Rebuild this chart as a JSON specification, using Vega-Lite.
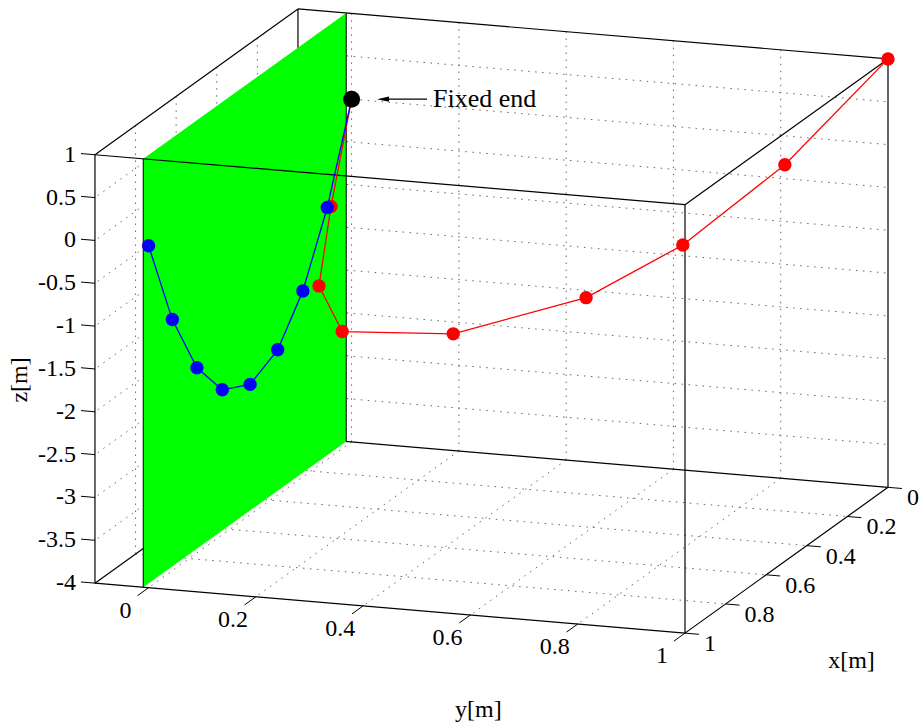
{
  "$schema": "https://vega.github.io/schema/vega-lite/v6.json",
  "width": 922,
  "height": 722,
  "padding": 0,
  "autosize": {"type": "fit", "contains": "padding"},
  "background": "white",
  "config": {"view": {"stroke": null}},
  "datasets": {
    "edges": [
      {"x1": 0, "y1": -0.1, "z1": 1, "x2": 0, "y2": 1, "z2": 1, "front": 0},
      {"x1": 0, "y1": -0.1, "z1": 1, "x2": 1, "y2": -0.1, "z2": 1, "front": 0},
      {"x1": 0, "y1": 1, "z1": 1, "x2": 1, "y2": 1, "z2": 1, "front": 0},
      {"x1": 0, "y1": -0.1, "z1": -4, "x2": 0, "y2": 1, "z2": -4, "front": 0},
      {"x1": 0, "y1": -0.1, "z1": -4, "x2": 1, "y2": -0.1, "z2": -4, "front": 0},
      {"x1": 0, "y1": 1, "z1": -4, "x2": 1, "y2": 1, "z2": -4, "front": 0},
      {"x1": 0, "y1": -0.1, "z1": -4, "x2": 0, "y2": -0.1, "z2": 1, "front": 0},
      {"x1": 0, "y1": 1, "z1": -4, "x2": 0, "y2": 1, "z2": 1, "front": 0},
      {"x1": 1, "y1": -0.1, "z1": 1, "x2": 1, "y2": 1, "z2": 1, "front": 1},
      {"x1": 1, "y1": -0.1, "z1": -4, "x2": 1, "y2": 1, "z2": -4, "front": 1},
      {"x1": 1, "y1": -0.1, "z1": -4, "x2": 1, "y2": -0.1, "z2": 1, "front": 1},
      {"x1": 1, "y1": 1, "z1": -4, "x2": 1, "y2": 1, "z2": 1, "front": 1}
    ],
    "grid": [
      {"x1": 0, "y1": 0, "z1": -4, "x2": 0, "y2": 0, "z2": 1},
      {"x1": 0, "y1": 0.2, "z1": -4, "x2": 0, "y2": 0.2, "z2": 1},
      {"x1": 0, "y1": 0.4, "z1": -4, "x2": 0, "y2": 0.4, "z2": 1},
      {"x1": 0, "y1": 0.6, "z1": -4, "x2": 0, "y2": 0.6, "z2": 1},
      {"x1": 0, "y1": 0.8, "z1": -4, "x2": 0, "y2": 0.8, "z2": 1},
      {"x1": 0, "y1": -0.1, "z1": 0.5, "x2": 0, "y2": 1, "z2": 0.5},
      {"x1": 0, "y1": -0.1, "z1": 0, "x2": 0, "y2": 1, "z2": 0},
      {"x1": 0, "y1": -0.1, "z1": -0.5, "x2": 0, "y2": 1, "z2": -0.5},
      {"x1": 0, "y1": -0.1, "z1": -1, "x2": 0, "y2": 1, "z2": -1},
      {"x1": 0, "y1": -0.1, "z1": -1.5, "x2": 0, "y2": 1, "z2": -1.5},
      {"x1": 0, "y1": -0.1, "z1": -2, "x2": 0, "y2": 1, "z2": -2},
      {"x1": 0, "y1": -0.1, "z1": -2.5, "x2": 0, "y2": 1, "z2": -2.5},
      {"x1": 0, "y1": -0.1, "z1": -3, "x2": 0, "y2": 1, "z2": -3},
      {"x1": 0, "y1": -0.1, "z1": -3.5, "x2": 0, "y2": 1, "z2": -3.5},
      {"x1": 0.2, "y1": -0.1, "z1": -4, "x2": 0.2, "y2": -0.1, "z2": 1},
      {"x1": 0.4, "y1": -0.1, "z1": -4, "x2": 0.4, "y2": -0.1, "z2": 1},
      {"x1": 0.6, "y1": -0.1, "z1": -4, "x2": 0.6, "y2": -0.1, "z2": 1},
      {"x1": 0.8, "y1": -0.1, "z1": -4, "x2": 0.8, "y2": -0.1, "z2": 1},
      {"x1": 0, "y1": -0.1, "z1": 0.5, "x2": 1, "y2": -0.1, "z2": 0.5},
      {"x1": 0, "y1": -0.1, "z1": 0, "x2": 1, "y2": -0.1, "z2": 0},
      {"x1": 0, "y1": -0.1, "z1": -0.5, "x2": 1, "y2": -0.1, "z2": -0.5},
      {"x1": 0, "y1": -0.1, "z1": -1, "x2": 1, "y2": -0.1, "z2": -1},
      {"x1": 0, "y1": -0.1, "z1": -1.5, "x2": 1, "y2": -0.1, "z2": -1.5},
      {"x1": 0, "y1": -0.1, "z1": -2, "x2": 1, "y2": -0.1, "z2": -2},
      {"x1": 0, "y1": -0.1, "z1": -2.5, "x2": 1, "y2": -0.1, "z2": -2.5},
      {"x1": 0, "y1": -0.1, "z1": -3, "x2": 1, "y2": -0.1, "z2": -3},
      {"x1": 0, "y1": -0.1, "z1": -3.5, "x2": 1, "y2": -0.1, "z2": -3.5},
      {"x1": 0, "y1": 0, "z1": -4, "x2": 1, "y2": 0, "z2": -4},
      {"x1": 0, "y1": 0.2, "z1": -4, "x2": 1, "y2": 0.2, "z2": -4},
      {"x1": 0, "y1": 0.4, "z1": -4, "x2": 1, "y2": 0.4, "z2": -4},
      {"x1": 0, "y1": 0.6, "z1": -4, "x2": 1, "y2": 0.6, "z2": -4},
      {"x1": 0, "y1": 0.8, "z1": -4, "x2": 1, "y2": 0.8, "z2": -4},
      {"x1": 0.2, "y1": -0.1, "z1": -4, "x2": 0.2, "y2": 1, "z2": -4},
      {"x1": 0.4, "y1": -0.1, "z1": -4, "x2": 0.4, "y2": 1, "z2": -4},
      {"x1": 0.6, "y1": -0.1, "z1": -4, "x2": 0.6, "y2": 1, "z2": -4},
      {"x1": 0.8, "y1": -0.1, "z1": -4, "x2": 0.8, "y2": 1, "z2": -4}
    ],
    "ticks": [
      {"axis": "z", "x": 1, "y": -0.1, "z": 1, "lab": "1"},
      {"axis": "z", "x": 1, "y": -0.1, "z": 0.5, "lab": "0.5"},
      {"axis": "z", "x": 1, "y": -0.1, "z": 0, "lab": "0"},
      {"axis": "z", "x": 1, "y": -0.1, "z": -0.5, "lab": "-0.5"},
      {"axis": "z", "x": 1, "y": -0.1, "z": -1, "lab": "-1"},
      {"axis": "z", "x": 1, "y": -0.1, "z": -1.5, "lab": "-1.5"},
      {"axis": "z", "x": 1, "y": -0.1, "z": -2, "lab": "-2"},
      {"axis": "z", "x": 1, "y": -0.1, "z": -2.5, "lab": "-2.5"},
      {"axis": "z", "x": 1, "y": -0.1, "z": -3, "lab": "-3"},
      {"axis": "z", "x": 1, "y": -0.1, "z": -3.5, "lab": "-3.5"},
      {"axis": "z", "x": 1, "y": -0.1, "z": -4, "lab": "-4"},
      {"axis": "y", "x": 1, "y": 0, "z": -4, "lab": "0"},
      {"axis": "y", "x": 1, "y": 0.2, "z": -4, "lab": "0.2"},
      {"axis": "y", "x": 1, "y": 0.4, "z": -4, "lab": "0.4"},
      {"axis": "y", "x": 1, "y": 0.6, "z": -4, "lab": "0.6"},
      {"axis": "y", "x": 1, "y": 0.8, "z": -4, "lab": "0.8"},
      {"axis": "y", "x": 1, "y": 1, "z": -4, "lab": "1"},
      {"axis": "x", "x": 0, "y": 1, "z": -4, "lab": "0"},
      {"axis": "x", "x": 0.2, "y": 1, "z": -4, "lab": "0.2"},
      {"axis": "x", "x": 0.4, "y": 1, "z": -4, "lab": "0.4"},
      {"axis": "x", "x": 0.6, "y": 1, "z": -4, "lab": "0.6"},
      {"axis": "x", "x": 0.8, "y": 1, "z": -4, "lab": "0.8"},
      {"axis": "x", "x": 1, "y": 1, "z": -4, "lab": "1"}
    ],
    "plane": [
      {"x": 0, "y": -0.01, "zt": 1, "zb": -4},
      {"x": 1, "y": -0.01, "zt": 1, "zb": -4}
    ],
    "blue": [
      {"i": 0, "x": 0, "y": 0, "z": 0},
      {"i": 1, "x": 0.12, "y": 0, "z": -1.06},
      {"i": 2, "x": 0.24, "y": 0, "z": -1.83},
      {"i": 3, "x": 0.364, "y": 0, "z": -2.306},
      {"i": 4, "x": 0.5, "y": 0, "z": -2.478},
      {"i": 5, "x": 0.637, "y": 0, "z": -2.308},
      {"i": 6, "x": 0.762, "y": 0, "z": -1.839},
      {"i": 7, "x": 0.883, "y": 0, "z": -1.07},
      {"i": 8, "x": 1.0, "y": 0, "z": -0.01}
    ],
    "red": [
      {"i": 0, "x": 0, "y": 0, "z": 0},
      {"i": 1, "x": 0.12, "y": 0.007, "z": -1.044},
      {"i": 2, "x": 0.24, "y": 0.03, "z": -1.755},
      {"i": 3, "x": 0.3, "y": 0.096, "z": -2.151},
      {"i": 4, "x": 0.3, "y": 0.303, "z": -2.068},
      {"i": 5, "x": 0.24, "y": 0.528, "z": -1.628},
      {"i": 6, "x": 0.16, "y": 0.678, "z": -1.07},
      {"i": 7, "x": 0.08, "y": 0.838, "z": -0.185},
      {"i": 8, "x": 0, "y": 1, "z": 1}
    ],
    "fixed": [{"x": 0, "y": 0, "z": 0}],
    "anno": [{"x": 0, "yt": 0.1406, "zt": 0.0746, "yh": 0.0474, "zh": 0.0252, "lab": "Fixed end"}],
    "titles": [
      {"x": 1, "y": -0.1, "z": -1.5, "lab": "z[m]"},
      {"x": 1, "y": 0.6, "z": -4, "lab": "y[m]"},
      {"x": 0.5, "y": 1, "z": -4, "lab": "x[m]"}
    ]
  },
  "encoding": {
    "x": {"field": "sx", "type": "quantitative", "scale": {"domain": [0, 922], "nice": false, "zero": false}, "axis": null},
    "y": {"field": "sy", "type": "quantitative", "scale": {"domain": [0, 722], "reverse": true, "nice": false, "zero": false}, "axis": null}
  },
  "layer": [
    {
      "data": {"name": "grid"},
      "transform": [
        {"calculate": "351.6 - 203*datum.x1 + 536.4*datum.y1", "as": "sx"},
        {"calculate": "99.3 + 146*datum.x1 + 45.5*datum.y1 - 85.8*datum.z1", "as": "sy"},
        {"calculate": "351.6 - 203*datum.x2 + 536.4*datum.y2", "as": "sx2"},
        {"calculate": "99.3 + 146*datum.x2 + 45.5*datum.y2 - 85.8*datum.z2", "as": "sy2"}
      ],
      "mark": {"type": "rule", "color": "#666666", "strokeWidth": 1, "strokeDash": [1.5, 5.5]},
      "encoding": {"x2": {"field": "sx2"}, "y2": {"field": "sy2"}}
    },
    {
      "data": {"name": "edges"},
      "transform": [
        {"filter": "datum.front == 0"},
        {"calculate": "351.6 - 203*datum.x1 + 536.4*datum.y1", "as": "sx"},
        {"calculate": "99.3 + 146*datum.x1 + 45.5*datum.y1 - 85.8*datum.z1", "as": "sy"},
        {"calculate": "351.6 - 203*datum.x2 + 536.4*datum.y2", "as": "sx2"},
        {"calculate": "99.3 + 146*datum.x2 + 45.5*datum.y2 - 85.8*datum.z2", "as": "sy2"}
      ],
      "mark": {"type": "rule", "color": "black", "strokeWidth": 1.2},
      "encoding": {"x2": {"field": "sx2"}, "y2": {"field": "sy2"}}
    },
    {
      "data": {"name": "plane"},
      "transform": [
        {"calculate": "351.6 - 203*datum.x + 536.4*datum.y", "as": "sx"},
        {"calculate": "99.3 + 146*datum.x + 45.5*datum.y - 85.8*datum.zt", "as": "sy"},
        {"calculate": "99.3 + 146*datum.x + 45.5*datum.y - 85.8*datum.zb", "as": "sy2"}
      ],
      "mark": {"type": "area", "color": "#00ff00", "opacity": 1},
      "encoding": {"y2": {"field": "sy2"}}
    },
    {
      "data": {"name": "plane"},
      "transform": [
        {"calculate": "351.6 - 203*datum.x + 536.4*datum.y", "as": "sx"},
        {"calculate": "99.3 + 146*datum.x + 45.5*datum.y - 85.8*datum.zt", "as": "sy"},
        {"calculate": "99.3 + 146*datum.x + 45.5*datum.y - 85.8*datum.zb", "as": "sy2"}
      ],
      "mark": {"type": "rule", "color": "black", "strokeWidth": 1},
      "encoding": {"y2": {"field": "sy2"}}
    },
    {
      "data": {"name": "edges"},
      "transform": [
        {"filter": "datum.front == 1"},
        {"calculate": "351.6 - 203*datum.x1 + 536.4*datum.y1", "as": "sx"},
        {"calculate": "99.3 + 146*datum.x1 + 45.5*datum.y1 - 85.8*datum.z1", "as": "sy"},
        {"calculate": "351.6 - 203*datum.x2 + 536.4*datum.y2", "as": "sx2"},
        {"calculate": "99.3 + 146*datum.x2 + 45.5*datum.y2 - 85.8*datum.z2", "as": "sy2"}
      ],
      "mark": {"type": "rule", "color": "black", "strokeWidth": 1.2},
      "encoding": {"x2": {"field": "sx2"}, "y2": {"field": "sy2"}}
    },
    {
      "data": {"name": "ticks"},
      "transform": [
        {"calculate": "datum.x + (datum.axis == 'y' ? 0.055 : 0)", "as": "xe"},
        {"calculate": "datum.y + (datum.axis == 'z' ? -0.026 : (datum.axis == 'x' ? 0.026 : 0))", "as": "ye"},
        {"calculate": "351.6 - 203*datum.x + 536.4*datum.y", "as": "sx"},
        {"calculate": "99.3 + 146*datum.x + 45.5*datum.y - 85.8*datum.z", "as": "sy"},
        {"calculate": "351.6 - 203*datum.xe + 536.4*datum.ye", "as": "sx2"},
        {"calculate": "99.3 + 146*datum.xe + 45.5*datum.ye - 85.8*datum.z", "as": "sy2"}
      ],
      "mark": {"type": "rule", "color": "black", "strokeWidth": 1},
      "encoding": {"x2": {"field": "sx2"}, "y2": {"field": "sy2"}}
    },
    {
      "data": {"name": "ticks"},
      "transform": [
        {"filter": "datum.axis == 'z'"},
        {"calculate": "351.6 - 203*datum.x + 536.4*datum.y", "as": "sx"},
        {"calculate": "99.3 + 146*datum.x + 45.5*datum.y - 85.8*datum.z", "as": "sy"}
      ],
      "mark": {"type": "text", "font": "Liberation Serif", "fontSize": 24, "color": "black", "align": "right", "baseline": "middle", "dx": -19, "dy": 0},
      "encoding": {"text": {"field": "lab"}}
    },
    {
      "data": {"name": "ticks"},
      "transform": [
        {"filter": "datum.axis == 'y'"},
        {"calculate": "351.6 - 203*datum.x + 536.4*datum.y", "as": "sx"},
        {"calculate": "99.3 + 146*datum.x + 45.5*datum.y - 85.8*datum.z", "as": "sy"}
      ],
      "mark": {"type": "text", "font": "Liberation Serif", "fontSize": 24, "color": "black", "align": "center", "baseline": "middle", "dx": -23, "dy": 23},
      "encoding": {"text": {"field": "lab"}}
    },
    {
      "data": {"name": "ticks"},
      "transform": [
        {"filter": "datum.axis == 'x'"},
        {"calculate": "351.6 - 203*datum.x + 536.4*datum.y", "as": "sx"},
        {"calculate": "99.3 + 146*datum.x + 45.5*datum.y - 85.8*datum.z", "as": "sy"}
      ],
      "mark": {"type": "text", "font": "Liberation Serif", "fontSize": 24, "color": "black", "align": "left", "baseline": "middle", "dx": 19, "dy": 11},
      "encoding": {"text": {"field": "lab"}}
    },
    {
      "data": {"name": "titles"},
      "transform": [
        {"filter": "datum.lab == 'z[m]'"},
        {"calculate": "351.6 - 203*datum.x + 536.4*datum.y", "as": "sx"},
        {"calculate": "99.3 + 146*datum.x + 45.5*datum.y - 85.8*datum.z", "as": "sy"}
      ],
      "mark": {"type": "text", "font": "Liberation Serif", "fontSize": 24, "color": "black", "align": "center", "baseline": "middle", "angle": 270, "dx": -11, "dy": -75},
      "encoding": {"text": {"field": "lab"}}
    },
    {
      "data": {"name": "titles"},
      "transform": [
        {"filter": "datum.lab == 'y[m]'"},
        {"calculate": "351.6 - 203*datum.x + 536.4*datum.y", "as": "sx"},
        {"calculate": "99.3 + 146*datum.x + 45.5*datum.y - 85.8*datum.z", "as": "sy"}
      ],
      "mark": {"type": "text", "font": "Liberation Serif", "fontSize": 24, "color": "black", "align": "center", "baseline": "middle", "dx": 8, "dy": 95},
      "encoding": {"text": {"field": "lab"}}
    },
    {
      "data": {"name": "titles"},
      "transform": [
        {"filter": "datum.lab == 'x[m]'"},
        {"calculate": "351.6 - 203*datum.x + 536.4*datum.y", "as": "sx"},
        {"calculate": "99.3 + 146*datum.x + 45.5*datum.y - 85.8*datum.z", "as": "sy"}
      ],
      "mark": {"type": "text", "font": "Liberation Serif", "fontSize": 24, "color": "black", "align": "center", "baseline": "middle", "dx": 65, "dy": 101},
      "encoding": {"text": {"field": "lab"}}
    },
    {
      "data": {"name": "red"},
      "transform": [
        {"calculate": "351.6 - 203*datum.x + 536.4*datum.y", "as": "sx"},
        {"calculate": "99.3 + 146*datum.x + 45.5*datum.y - 85.8*datum.z", "as": "sy"}
      ],
      "mark": {"type": "line", "color": "#ff0000", "strokeWidth": 1.3},
      "encoding": {"order": {"field": "i", "type": "quantitative"}}
    },
    {
      "data": {"name": "red"},
      "transform": [
        {"filter": "datum.i > 0"},
        {"calculate": "351.6 - 203*datum.x + 536.4*datum.y", "as": "sx"},
        {"calculate": "99.3 + 146*datum.x + 45.5*datum.y - 85.8*datum.z", "as": "sy"}
      ],
      "mark": {"type": "point", "filled": true, "color": "#ff0000", "opacity": 1, "size": 180}
    },
    {
      "data": {"name": "blue"},
      "transform": [
        {"calculate": "351.6 - 203*datum.x + 536.4*datum.y", "as": "sx"},
        {"calculate": "99.3 + 146*datum.x + 45.5*datum.y - 85.8*datum.z", "as": "sy"}
      ],
      "mark": {"type": "line", "color": "#0000ff", "strokeWidth": 1.3},
      "encoding": {"order": {"field": "i", "type": "quantitative"}}
    },
    {
      "data": {"name": "blue"},
      "transform": [
        {"filter": "datum.i > 0"},
        {"calculate": "351.6 - 203*datum.x + 536.4*datum.y", "as": "sx"},
        {"calculate": "99.3 + 146*datum.x + 45.5*datum.y - 85.8*datum.z", "as": "sy"}
      ],
      "mark": {"type": "point", "filled": true, "color": "#0000ff", "opacity": 1, "size": 180}
    },
    {
      "data": {"name": "fixed"},
      "transform": [
        {"calculate": "351.6 - 203*datum.x + 536.4*datum.y", "as": "sx"},
        {"calculate": "99.3 + 146*datum.x + 45.5*datum.y - 85.8*datum.z", "as": "sy"}
      ],
      "mark": {"type": "point", "filled": true, "color": "black", "opacity": 1, "size": 290}
    },
    {
      "data": {"name": "anno"},
      "transform": [
        {"calculate": "351.6 - 203*datum.x + 536.4*datum.yt", "as": "sx"},
        {"calculate": "99.3 + 146*datum.x + 45.5*datum.yt - 85.8*datum.zt", "as": "sy"},
        {"calculate": "351.6 - 203*datum.x + 536.4*datum.yh + 6", "as": "sx2"},
        {"calculate": "99.3 + 146*datum.x + 45.5*datum.yh - 85.8*datum.zh", "as": "sy2"}
      ],
      "mark": {"type": "rule", "color": "black", "strokeWidth": 1.2},
      "encoding": {"x2": {"field": "sx2"}, "y2": {"field": "sy2"}}
    },
    {
      "data": {"name": "anno"},
      "transform": [
        {"calculate": "351.6 - 203*datum.x + 536.4*datum.yh", "as": "sx"},
        {"calculate": "99.3 + 146*datum.x + 45.5*datum.yh - 85.8*datum.zh", "as": "sy"}
      ],
      "mark": {"type": "point", "shape": "M 0 0 L 2 -0.45 L 2 0.45 Z", "filled": true, "color": "black", "opacity": 1, "size": 144}
    },
    {
      "data": {"name": "anno"},
      "transform": [
        {"calculate": "351.6 - 203*datum.x + 536.4*datum.yt", "as": "sx"},
        {"calculate": "99.3 + 146*datum.x + 45.5*datum.yt - 85.8*datum.zt", "as": "sy"}
      ],
      "mark": {"type": "text", "font": "Liberation Serif", "fontSize": 26, "color": "black", "align": "left", "baseline": "middle", "dx": 6, "dy": 0},
      "encoding": {"text": {"field": "lab"}}
    }
  ]
}
